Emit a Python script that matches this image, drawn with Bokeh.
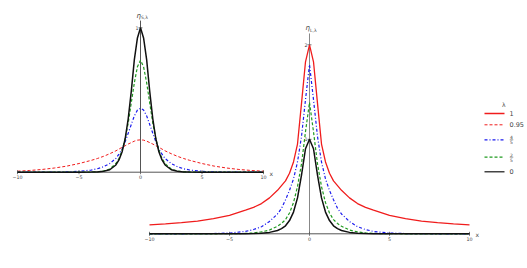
from bokeh.plotting import figure
from bokeh.models import Range1d
from bokeh.core.properties import value
from bokeh.embed import file_html
from bokeh.resources import INLINE
import math

# ---------------- data ----------------
X = [-10, -9, -8, -7, -6, -5, -4, -3.5, -3, -2.5, -2, -1.75, -1.5, -1.25, -1, -0.75, -0.5, -0.25,
     0, 0.25, 0.5, 0.75, 1, 1.25, 1.5, 1.75, 2, 2.5, 3, 3.5, 4, 5, 6, 7, 8, 9, 10]

# left panel: eta_{S,lambda}
S_095 = [0.007, 0.012, 0.019, 0.029, 0.042, 0.06, 0.082, 0.095, 0.11, 0.128, 0.148, 0.16, 0.172, 0.183, 0.195, 0.205, 0.215, 0.222,
         0.224, 0.222, 0.215, 0.205, 0.195, 0.183, 0.172, 0.16, 0.148, 0.128, 0.11, 0.095, 0.082, 0.06, 0.042, 0.029, 0.019, 0.012, 0.007]
S_45 = [0, 0, 0, 0.001, 0.002, 0.006, 0.015, 0.024, 0.038, 0.06, 0.095, 0.125, 0.16, 0.21, 0.27, 0.33, 0.39, 0.43,
        0.443, 0.43, 0.39, 0.33, 0.27, 0.21, 0.16, 0.125, 0.095, 0.06, 0.038, 0.024, 0.015, 0.006, 0.002, 0.001, 0, 0, 0]
S_25 = [0, 0, 0, 0, 0, 0, 0.001, 0.003, 0.008, 0.022, 0.06, 0.095, 0.15, 0.23, 0.34, 0.48, 0.62, 0.73,
        0.775, 0.73, 0.62, 0.48, 0.34, 0.23, 0.15, 0.095, 0.06, 0.022, 0.008, 0.003, 0.001, 0, 0, 0, 0, 0, 0]
S_0 = [0, 0, 0, 0, 0, 0, 0.001, 0.002, 0.006, 0.017, 0.05, 0.085, 0.14, 0.23, 0.37, 0.56, 0.78, 0.93,
       1.0, 0.93, 0.78, 0.56, 0.37, 0.23, 0.14, 0.085, 0.05, 0.017, 0.006, 0.002, 0.001, 0, 0, 0, 0, 0, 0]

# right panel: eta_{L,lambda}
L_1 = [0.095, 0.105, 0.118, 0.135, 0.16, 0.195, 0.25, 0.28, 0.32, 0.38, 0.46, 0.51, 0.56, 0.64, 0.76, 0.95, 1.38, 1.82,
       2.0, 1.82, 1.38, 0.95, 0.76, 0.64, 0.56, 0.51, 0.46, 0.38, 0.32, 0.28, 0.25, 0.195, 0.16, 0.135, 0.118, 0.105, 0.095]
L_45 = [0, 0, 0, 0.001, 0.003, 0.008, 0.025, 0.045, 0.075, 0.13, 0.21, 0.27, 0.36, 0.46, 0.58, 0.76, 1.03, 1.42,
        1.79, 1.42, 1.03, 0.76, 0.58, 0.46, 0.36, 0.27, 0.21, 0.13, 0.075, 0.045, 0.025, 0.008, 0.003, 0.001, 0, 0, 0]
L_25 = [0, 0, 0, 0, 0, 0.001, 0.004, 0.009, 0.02, 0.04, 0.08, 0.11, 0.15, 0.22, 0.33, 0.5, 0.74, 1.08,
        1.39, 1.08, 0.74, 0.5, 0.33, 0.22, 0.15, 0.11, 0.08, 0.04, 0.02, 0.009, 0.004, 0.001, 0, 0, 0, 0, 0]
L_0 = [0, 0, 0, 0, 0, 0, 0.001, 0.002, 0.006, 0.015, 0.035, 0.055, 0.085, 0.14, 0.23, 0.38, 0.62, 0.9,
       1.0, 0.9, 0.62, 0.38, 0.23, 0.14, 0.085, 0.055, 0.035, 0.015, 0.006, 0.002, 0.001, 0, 0, 0, 0, 0, 0]

XLIM = [-10, 10]
XTICKS = [-10, -5, 0, 5, 10]
XTICK_LABELS = ["\u221210", "\u22125", "0", "5", "10"]
S_YTICKS = [1]
S_YTICK_LABELS = ["1"]
L_YTICKS = [1, 2]
L_YTICK_LABELS = ["1", "2"]
S_YTOP = 1.05
L_YTOP = 2.12

LEG_TITLE = "\u03bb"
LEG_LABELS = ["1", "0.95", ("4", "5"), ("2", "5"), "0"]

# ---------------- styles ----------------
RED = "#f01c1c"
BLUE = "#1a1aee"
GREEN = "#1f9a1f"
BLACK = "#111111"
AX = "#555555"
AXY_R = "#888888"
FONT = value("DejaVu Sans")
DOTDASH = "3 2 1 2"
DASH = "3 2"

W, H = 527, 268
p = figure(width=W, height=H, output_backend="svg", toolbar_location=None,
           x_axis_location=None, y_axis_location=None, min_border=0,
           outline_line_color=None,
           x_range=Range1d(-10 - 17 / 12.3, 10 + (W - 263) / 12.3),
           y_range=Range1d(-(H - 171.7) / 144.4, 1 + 27.3 / 144.4))
p.grid.visible = False
p.extra_x_ranges = {"R": Range1d(-10 - 149 / 16.0, 10 + (W - 469) / 16.0),
                    "pix": Range1d(0, W)}
p.extra_y_ranges = {"R": Range1d(-(H - 233.3) / 94.5, 2 + 44.3 / 94.5),
                    "pix": Range1d(H, 0)}


def axes(xr, yr, ytop, yticks, ylabels, sub, tickfont, ycol):
    kw = {}
    if xr:
        kw = dict(x_range_name=xr, y_range_name=yr)
    p.line(XLIM, [0, 0], line_color=AX, line_width=1, **kw)
    p.line([0, 0], [0, ytop], line_color=ycol, line_width=1, **kw)
    p.scatter(XTICKS, [0] * len(XTICKS), marker="dash", angle=math.pi / 2, size=4,
              line_color=AX, line_width=0.8, **kw)
    p.text(XTICKS, [0] * len(XTICKS), text=XTICK_LABELS, text_font=FONT,
           text_font_size=tickfont, text_color="#444444", text_align="center",
           text_baseline="top", y_offset=3, **kw)
    p.scatter([0] * len(yticks), yticks, marker="dash", size=4, line_color=AX,
              line_width=0.8, **kw)
    p.text([0] * len(yticks), yticks, text=ylabels, text_font=FONT,
           text_font_size=tickfont, text_color="#444444", text_align="right",
           text_baseline="middle", x_offset=-2, **kw)
    p.text([XLIM[1]], [0], text=["x"], text_font=FONT, text_font_size="6px",
           text_color="#444444", text_align="left", text_baseline="middle",
           x_offset=6, y_offset=1, **kw)
    p.text([0], [ytop], text=["\u03b7"], text_font=FONT, text_font_size="7px",
           text_font_style="italic", text_color="#444444", text_align="right",
           text_baseline="bottom", x_offset=0.5, y_offset=-1, **kw)
    p.text([0], [ytop], text=[sub], text_font=FONT, text_font_size="4.5px",
           text_color="#444444", text_align="left", text_baseline="bottom",
           x_offset=0.5, y_offset=-0.5, **kw)


axes(None, None, S_YTOP, S_YTICKS, S_YTICK_LABELS, "S,\u03bb", "4.8px", AX)
axes("R", "R", L_YTOP, L_YTICKS, L_YTICK_LABELS, "L,\u03bb", "4.8px", AXY_R)

# left panel curves
p.line(X, S_095, line_color=RED, line_width=1.0, line_dash=DASH)
p.line(X, S_45, line_color=BLUE, line_width=1.2, line_dash=DOTDASH)
p.line(X, S_25, line_color=GREEN, line_width=1.2, line_dash=DASH)
p.line(X, S_0, line_color=BLACK, line_width=1.5)

# right panel curves
rk = dict(x_range_name="R", y_range_name="R")
p.line(X, L_1, line_color=RED, line_width=1.3, **rk)
p.line(X, L_45, line_color=BLUE, line_width=1.2, line_dash=DOTDASH, **rk)
p.line(X, L_25, line_color=GREEN, line_width=1.2, line_dash=DASH, **rk)
p.line(X, L_0, line_color=BLACK, line_width=1.5, **rk)

# legend (positioned in canvas pixels)
pk = dict(x_range_name="pix", y_range_name="pix")
leg_y = [113, 124.3, 139.3, 156.7, 171.3]
leg_styles = [(RED, None, 1.3), (RED, DASH, 1.0), (BLUE, DOTDASH, 1.2),
              (GREEN, DASH, 1.2), ("#444444", None, 1.5)]
p.text([503.3], [104], text=[LEG_TITLE], text_font=FONT, text_font_size="6px",
       text_color="#444444", text_align="center", text_baseline="middle", **pk)
for yy, (col, dash, lw), lab in zip(leg_y, leg_styles, LEG_LABELS):
    kw = dict(line_color=col, line_width=lw)
    if dash:
        kw["line_dash"] = dash
    p.line([484, 504], [yy, yy], **kw, **pk)
    if isinstance(lab, tuple):
        p.text([511], [yy - 0.6], text=[lab[0]], text_font=FONT, text_font_size="4.5px",
               text_color="#444444", text_align="center", text_baseline="bottom", **pk)
        p.line([509.2, 512.8], [yy, yy], line_color="#444444", line_width=0.5, **pk)
        p.text([511], [yy + 0.6], text=[lab[1]], text_font=FONT, text_font_size="4.5px",
               text_color="#444444", text_align="center", text_baseline="top", **pk)
    else:
        p.text([509], [yy], text=[lab], text_font=FONT, text_font_size="6.5px",
               text_color="#444444", text_align="left", text_baseline="middle", **pk)

open("out.html", "w").write(file_html(p, INLINE))
